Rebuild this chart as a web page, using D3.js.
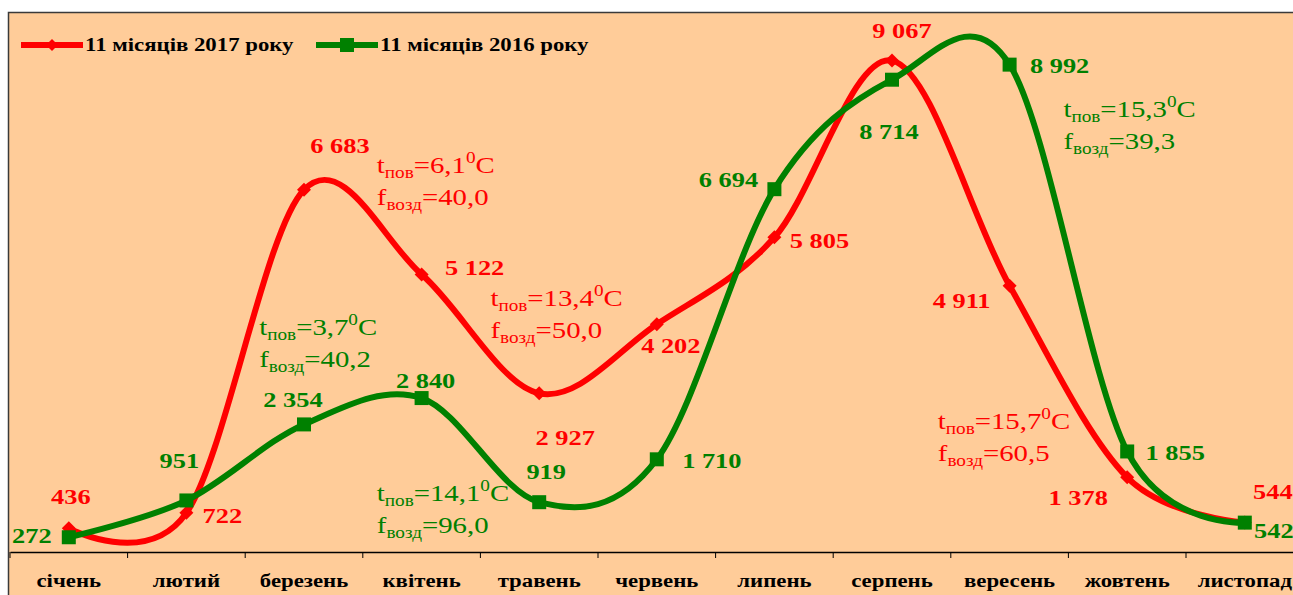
<!DOCTYPE html>
<html>
<head>
<meta charset="utf-8">
<script src="https://cdn.jsdelivr.net/npm/d3@7"></script>
<style>
  body { margin: 0; background: #fff; }
  svg text { font-family: "Liberation Serif", "Times New Roman", serif; }
</style>
</head>
<body>
<div id="chart"></div>
<script>
// categories and values
var months = ['січень', 'лютий', 'березень', 'квітень', 'травень', 'червень',
  'липень', 'серпень', 'вересень', 'жовтень', 'листопад'];
var values2017 = [436, 722, 6683, 5122, 2927, 4202, 5805, 9067, 4911, 1378, 544];
var values2016 = [272, 951, 2354, 2840, 919, 1710, 6694, 8714, 8992, 1855, 542];
var seriesNames = ['11 місяців 2017 року', '11 місяців 2016 року'];
// weather notes: [month, temperature, humidity]
var notes2017 = [['квітень', '6,1', '40,0'], ['травень', '13,4', '50,0'], ['вересень', '15,7', '60,5']];
var notes2016 = [['березень', '3,7', '40,2'], ['квітень', '14,1', '96,0'], ['жовтень', '15,3', '39,3']];

// label placement (offset from point, px)
var labelOff2017 = [[2, -32], [36, 2], [36, -44], [53, -7], [26, 44], [14, 21], [45, 3], [10, -30], [-48, 14], [-49, 20], [28, -31]];
var labelOff2016 = [[-37, -2], [-7, -40], [-11, -25], [4, -18], [7, -31], [55, 1], [-46, -10], [-3, 52], [50, 1], [48, 1], [29, 8]];
// note placement: [dx from band start, baseline value]
var notePlace2017 = [[14, 6990], [10, 4530], [-13, 2270]];
var notePlace2016 = [[14, 4000], [14, 940], [-5, 8020]];

var red = '#ff0000', green = '#008000';
var W = 1293, H = 595;
var margin = { top: 10, left: 10, bottom: 43 };
var stretch = 1.2; // text in the picture is wider than the font

var svg = d3.select('#chart').append('svg')
  .attr('width', W)
  .attr('height', H);

// chart area
svg.append('rect')
  .attr('x', 8.5).attr('y', 12.5)
  .attr('width', W + 20).attr('height', H)
  .attr('fill', '#ffcc99')
  .attr('stroke', '#3a3a3a')
  .attr('stroke-width', 1.5);

var x = d3.scaleBand().domain(months).range([margin.left, margin.left + 11 * 117.6]);
var y = d3.scaleLinear().domain([0, 10000]).range([H - margin.bottom, margin.top]);
var cx = function(m) { return x(m) + x.bandwidth() / 2; };

function place(px, py) {
  return 'translate(' + px + ',' + py + ') scale(' + stretch + ',1)';
}

// x axis
var axis = svg.append('g')
  .attr('transform', 'translate(0,' + y(0) + ')')
  .call(d3.axisBottom(x).tickSize(0).tickPadding(22).tickSizeOuter(0));
axis.select('.domain').attr('stroke', '#000').attr('stroke-width', 1.5);
axis.selectAll('.tick text')
  .attr('font-size', 19)
  .attr('font-weight', 'bold')
  .attr('fill', '#000')
  .attr('font-family', '"Liberation Serif", serif')
  .attr('transform', 'scale(' + stretch + ',1)');
axis.selectAll('.bound')
  .data(months.concat(['end']))
  .enter().append('line')
  .attr('class', 'bound')
  .attr('x1', function(d, i) { return margin.left + i * x.bandwidth(); })
  .attr('x2', function(d, i) { return margin.left + i * x.bandwidth(); })
  .attr('y1', 0).attr('y2', 6)
  .attr('stroke', '#000');

var line = d3.line()
  .x(function(d, i) { return cx(months[i]); })
  .y(function(d) { return y(d); })
  .curve(d3.curveCardinal.tension(0));

function diamond(g, px, py, s, color) {
  g.append('path')
    .attr('d', 'M' + px + ',' + (py - s) + 'L' + (px + s) + ',' + py + 'L' + px + ',' + (py + s) + 'L' + (px - s) + ',' + py + 'Z')
    .attr('fill', color);
}
function square(g, px, py, s, color) {
  g.append('rect')
    .attr('x', px - s).attr('y', py - s)
    .attr('width', 2 * s).attr('height', 2 * s)
    .attr('fill', color);
}

function drawSeries(values, color, marker) {
  var g = svg.append('g');
  g.append('path')
    .datum(values)
    .attr('d', line)
    .attr('fill', 'none')
    .attr('stroke', color)
    .attr('stroke-width', 6);
  values.forEach(function(v, i) {
    marker(g, cx(months[i]), y(v), 7, color);
  });
}
function drawLabels(values, color, offsets) {
  svg.append('g').selectAll('text')
    .data(values)
    .enter().append('text')
    .attr('transform', function(d, i) {
      return place(cx(months[i]) + offsets[i][0], y(d) + offsets[i][1]);
    })
    .attr('text-anchor', 'middle')
    .attr('dominant-baseline', 'central')
    .attr('font-size', 22)
    .attr('font-weight', 'bold')
    .attr('fill', color)
    .text(function(d) { return d3.format(',')(d).replace(',', ' '); });
}

drawSeries(values2017, red, diamond);
drawSeries(values2016, green, square);
drawLabels(values2017, red, labelOff2017);
drawLabels(values2016, green, labelOff2016);

function drawNotes(notes, pos, color) {
  notes.forEach(function(n, i) {
    var nx = x(n[0]) + pos[i][0];
    var ny = y(pos[i][1]);
    var t1 = svg.append('text').attr('transform', place(nx, ny))
      .attr('font-size', 24).attr('fill', color);
    t1.append('tspan').text('t');
    t1.append('tspan').attr('font-size', 16).attr('dy', 5).text('пов');
    t1.append('tspan').attr('dy', -5).text('=' + n[1]);
    t1.append('tspan').attr('font-size', 16).attr('dy', -10).text('0');
    t1.append('tspan').attr('dy', 10).text('C');
    var t2 = svg.append('text').attr('transform', place(nx, ny + 32))
      .attr('font-size', 24).attr('fill', color);
    t2.append('tspan').text('f');
    t2.append('tspan').attr('font-size', 16).attr('dy', 5).text('возд');
    t2.append('tspan').attr('dy', -5).text('=' + n[2]);
  });
}
drawNotes(notes2017, notePlace2017, red);
drawNotes(notes2016, notePlace2016, green);

// legend
var legend = svg.append('g').attr('transform', 'translate(0,45)');
[[red, diamond, 21], [green, square, 316]].forEach(function(d, i) {
  legend.append('line')
    .attr('x1', d[2]).attr('x2', d[2] + 62)
    .attr('y1', 0).attr('y2', 0)
    .attr('stroke', d[0]).attr('stroke-width', 6);
  d[1](legend, d[2] + 31, 0, i === 0 ? 6 : 7, d[0]);
  legend.append('text')
    .attr('transform', place(d[2] + 64, 0))
    .attr('dominant-baseline', 'central')
    .attr('font-size', 19)
    .attr('font-weight', 'bold')
    .attr('fill', '#000')
    .text(seriesNames[i]);
});
</script>
</body>
</html>
